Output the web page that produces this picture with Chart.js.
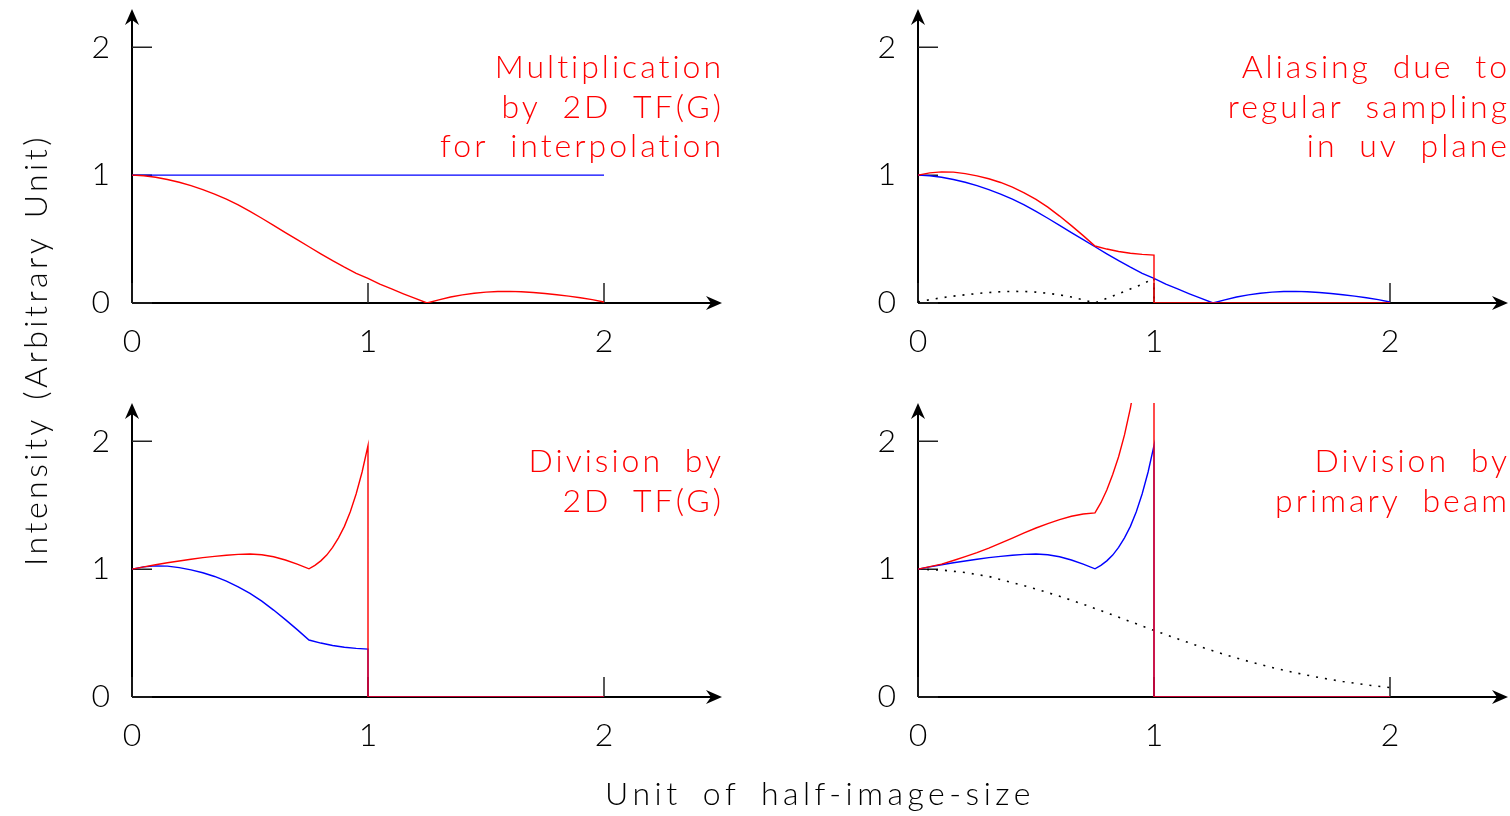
<!DOCTYPE html>
<html>
<head>
<meta charset="utf-8">
<title>Gridding</title>
<script src="https://cdn.jsdelivr.net/npm/chart.js@4.4.1/dist/chart.umd.min.js"></script>
<style>
  html, body { margin: 0; padding: 0; background: #fff; overflow: hidden; }
  body { width: 1510px; height: 816px; position: relative; }
  canvas { position: absolute; }
  .titulo {
    position: absolute; white-space: nowrap; color: #000;
    font-family: Lato, "DejaVu Sans", sans-serif; font-weight: 300;
    font-size: 32px; line-height: 38px;
  }
  #tituloX { left: 820px; top: 774px; transform: translateX(-50%); letter-spacing: 4.5px; word-spacing: 8px; }
  #tituloY { left: 35px; top: 350px; transform: translate(-50%, -50%) rotate(-90deg); letter-spacing: 3.5px; word-spacing: 5px; }
</style>
</head>
<body>
<canvas id="panel1" width="760" height="390" style="left:0;top:0"></canvas>
<canvas id="panel2" width="724" height="390" style="left:786px;top:0"></canvas>
<canvas id="panel3" width="760" height="390" style="left:0;top:394px"></canvas>
<canvas id="panel4" width="724" height="390" style="left:786px;top:394px"></canvas>
<div class="titulo" id="tituloX">Unit of half-image-size</div>
<div class="titulo" id="tituloY">Intensity (Arbitrary Unit)</div>

<script>
// === DATOS ===
// Marcas de los ejes
const marcasX = [0, 1, 2];
const marcasY = [0, 1, 2];

// TF(G): transformada de la función de convolución, de 0 a 2
const uG = [0, 0.05, 0.1, 0.15, 0.2, 0.25, 0.3, 0.35, 0.4, 0.45, 0.5, 0.55, 0.6, 0.65, 0.7, 0.75, 0.8, 0.85, 0.9, 0.95, 1.0,
            1.05, 1.1, 1.15, 1.2, 1.25, 1.3, 1.35, 1.4, 1.45, 1.5, 1.55, 1.6, 1.65, 1.7, 1.75, 1.8, 1.85, 1.9, 1.95, 2.0];
const valG = [1.000, 0.995, 0.984, 0.966, 0.945, 0.918, 0.887, 0.852, 0.812, 0.768, 0.716, 0.663, 0.608, 0.551, 0.496, 0.440, 0.385, 0.331, 0.280, 0.232, 0.193,
              0.147, 0.110, 0.072, 0.036, 0.000, 0.025, 0.047, 0.064, 0.076, 0.085, 0.090, 0.091, 0.088, 0.082, 0.074, 0.064, 0.054, 0.041, 0.026, 0.008];

// Mitad de la imagen (0 a 1)
const uMitad = [0, 0.05, 0.1, 0.15, 0.2, 0.25, 0.3, 0.35, 0.4, 0.45, 0.5, 0.55, 0.6, 0.65, 0.7, 0.75, 0.8, 0.85, 0.9, 0.95, 1.0];
// Alias producido por el muestreo regular (punteado)
const valAlias = [0.008, 0.026, 0.041, 0.054, 0.064, 0.074, 0.082, 0.088, 0.091, 0.090, 0.085, 0.076, 0.064, 0.047, 0.025, 0.000, 0.036, 0.072, 0.110, 0.147, 0.193];
// TF(G) más el alias
const valSuma = [1.000, 1.018, 1.026, 1.024, 1.012, 0.995, 0.972, 0.943, 0.906, 0.862, 0.811, 0.750, 0.680, 0.605, 0.527, 0.446, 0.422, 0.403, 0.389, 0.380, 0.375];

// Tramo más fino cerca del borde (0 a 1)
const uFino = [0, 0.05, 0.1, 0.15, 0.2, 0.25, 0.3, 0.35, 0.4, 0.45, 0.5, 0.55, 0.6, 0.65, 0.7, 0.75,
               0.775, 0.8, 0.825, 0.85, 0.875, 0.9, 0.925, 0.95, 0.975, 1.0];
// Después de dividir por TF(G)
const valDivG = [1.000, 1.018, 1.035, 1.050, 1.064, 1.078, 1.090, 1.100, 1.109, 1.116, 1.119, 1.113, 1.097, 1.072, 1.040, 1.003,
                 1.030, 1.065, 1.110, 1.170, 1.245, 1.335, 1.450, 1.590, 1.760, 1.966];
// Después de dividir también por el haz primario
const valDivHaz = [1.000, 1.020, 1.040, 1.068, 1.098, 1.130, 1.165, 1.203, 1.243, 1.284, 1.322, 1.357, 1.388, 1.414, 1.432, 1.440,
                   1.52, 1.62, 1.74, 1.88, 2.05, 2.26, 2.52, 2.86, 3.27, 3.77];

// Haz primario (punteado)
const uHaz = [0, 0.1, 0.2, 0.3, 0.4, 0.5, 0.6, 0.7, 0.8, 0.9, 1.0, 1.1, 1.2, 1.3, 1.4, 1.5, 1.6, 1.7, 1.8, 1.9, 2.0];
const valHaz = [1.000, 0.993, 0.974, 0.943, 0.895, 0.845, 0.788, 0.726, 0.659, 0.590, 0.521, 0.455, 0.391, 0.332, 0.279, 0.231, 0.189, 0.152, 0.121, 0.095, 0.074];

// Imagen ideal (constante) y zona vacía fuera de la mitad
const uPlano = [0, 2];
const valPlano = [1, 1];
const uFuera = [1, 2];
const valFuera = [0, 0];

// === UTILIDADES ===
const serie = (xs, ys) => xs.map((x, i) => ({ x: x, y: ys[i] }));
const conCorte = (xs, ys) => serie(xs, ys).concat(serie(uFuera, valFuera));

const ROJO = '#ff0000';
const AZUL = '#0000ff';
const FUENTE = 'Lato, "DejaVu Sans", sans-serif';

function linea(datos, color, punteada) {
  return {
    data: datos,
    borderColor: color,
    borderWidth: punteada ? 1.6 : 1.4,
    borderDash: punteada ? [2, 7] : [],
    pointRadius: 0,
    tension: 0,
    fill: false
  };
}

// Flecha rellena con muesca
function flecha(ctx, x, y, ang) {
  ctx.save();
  ctx.translate(x, y);
  ctx.rotate(ang);
  ctx.beginPath();
  ctx.moveTo(0, 0);
  ctx.lineTo(-16, -7);
  ctx.lineTo(-11, 0);
  ctx.lineTo(-16, 7);
  ctx.closePath();
  ctx.fill();
  ctx.restore();
}

// Ejes con flechas y marcas hacia dentro
const ejesConFlechas = {
  id: 'ejesConFlechas',
  beforeDatasetsDraw(chart) {
    const { ctx, chartArea: a, scales: { x, y } } = chart;
    const x0 = x.getPixelForValue(0);
    const y0 = y.getPixelForValue(0);
    ctx.save();
    ctx.strokeStyle = '#000';
    ctx.fillStyle = '#000';
    ctx.lineWidth = 2;
    ctx.beginPath();
    ctx.moveTo(x0, y0);
    ctx.lineTo(a.right - 6, y0);
    ctx.moveTo(x0, y0);
    ctx.lineTo(x0, a.top + 6);
    ctx.stroke();
    flecha(ctx, a.right, y0, 0);
    flecha(ctx, x0, a.top, -Math.PI / 2);

    ctx.lineWidth = 1.5;
    ctx.strokeStyle = '#222';
    ctx.beginPath();
    marcasX.forEach(v => {
      const px = x.getPixelForValue(v);
      ctx.moveTo(px, y0);
      ctx.lineTo(px, y0 - 20);
    });
    marcasY.forEach(v => {
      const py = y.getPixelForValue(v);
      ctx.moveTo(x0, py);
      ctx.lineTo(x0 + 20, py);
    });
    ctx.stroke();
    ctx.restore();
  },
  afterDatasetsDraw(chart, args, opts) {
    const { ctx, chartArea: a } = chart;
    ctx.save();
    ctx.font = '300 32px ' + FUENTE;
    ctx.fillStyle = ROJO;
    ctx.textAlign = 'right';
    ctx.textBaseline = 'alphabetic';
    if ('letterSpacing' in ctx) ctx.letterSpacing = '3px';
    if ('wordSpacing' in ctx) ctx.wordSpacing = '10px';
    (opts.lineas || []).forEach((t, i) => {
      ctx.fillText(t, a.right + 2, a.top + 69 + i * 39.5);
    });
    ctx.restore();
  }
};

function crearPanel(id, datasets, lineas, derecha) {
  const fuenteTicks = { family: FUENTE, size: 32, weight: 300 };
  return new Chart(document.getElementById(id), {
    type: 'line',
    data: { datasets: datasets },
    plugins: [ejesConFlechas],
    options: {
      responsive: false,
      animation: false,
      layout: { padding: { left: 90, right: derecha ? 2 : 38, top: 9, bottom: 0 } },
      plugins: {
        legend: { display: false },
        tooltip: { enabled: false },
        ejesConFlechas: { lineas: lineas }
      },
      scales: {
        x: {
          type: 'linear', min: 0, max: 2.5,
          grid: { display: false, drawTicks: false },
          border: { display: false },
          afterBuildTicks: s => { s.ticks = marcasX.map(v => ({ value: v })); },
          afterFit: s => { s.height = 87; s.paddingLeft = 0; s.paddingRight = 0; },
          ticks: { color: '#000', font: fuenteTicks, padding: 19, autoSkip: false, maxRotation: 0 }
        },
        y: {
          type: 'linear', min: 0, max: 2.3,
          grid: { display: false, drawTicks: false },
          border: { display: false },
          afterBuildTicks: s => { s.ticks = marcasY.map(v => ({ value: v })); },
          afterFit: s => { s.width = 42; s.paddingTop = 0; s.paddingBottom = 0; },
          ticks: { color: '#000', font: fuenteTicks, padding: 22 }
        }
      }
    }
  });
}

// === PANELES ===
// Multiplicación por TF(G)
crearPanel('panel1', [
  linea(serie(uG, valG), ROJO),
  linea(serie(uPlano, valPlano), AZUL)
], ['Multiplication', 'by 2D TF(G)', 'for interpolation'], false);

// Aliasing por el muestreo regular en el plano uv
crearPanel('panel2', [
  linea(conCorte(uMitad, valSuma), ROJO),
  linea(serie(uG, valG), AZUL),
  linea(conCorte(uMitad, valAlias), '#000', true)
], ['Aliasing due to', 'regular sampling', 'in uv plane'], true);

// División por TF(G)
crearPanel('panel3', [
  linea(conCorte(uFino, valDivG), ROJO),
  linea(conCorte(uMitad, valSuma), AZUL)
], ['Division by', '2D TF(G)'], false);

// División por el haz primario
crearPanel('panel4', [
  linea(conCorte(uFino, valDivHaz), ROJO),
  linea(conCorte(uFino, valDivG), AZUL),
  linea(serie(uHaz, valHaz), '#000', true)
], ['Division by', 'primary beam'], true);
</script>
</body>
</html>
